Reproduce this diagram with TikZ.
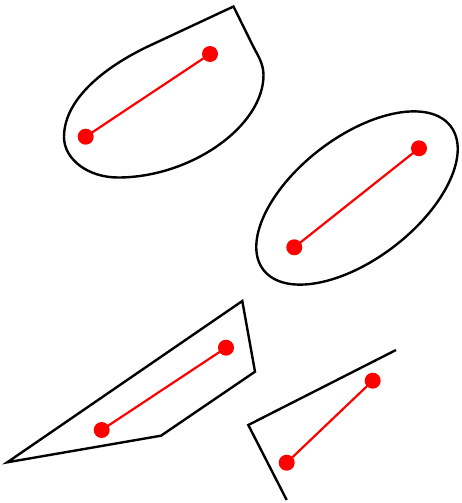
\documentclass[tikz,border=0pt]{standalone}
\tikzset{
  outline/.style={draw=black, line width=2.4pt, line join=miter},
  seg/.style={draw=red, line width=2.2pt},
  dot/.style={circle, fill=red, draw=none, inner sep=0pt, minimum size=16pt},
}
\begin{document}
\begin{tikzpicture}[x=1pt,y=-1pt]
\useasboundingbox (0,0) rectangle (461,503);

% top shape: corner plus rounded body
\coordinate (c1) at (233.5,6.5);
\coordinate (t2) at (252,44);
\coordinate (r1) at (263.5,75);
\coordinate (bt) at (118,177.5);
\coordinate (l1) at (64,137);
\coordinate (t1) at (150,45.5);
\draw[outline] (c1) -- (t2)
  .. controls (257.3,54.8) and (263.5,63) .. (r1)
  .. controls (263.5,126.3) and (190.8,177.5) .. (bt)
  .. controls (88.2,177.5) and (64,159.4) .. (l1)
  .. controls (64,97) and (109.2,64.5) .. (t1)
  -- cycle;
\node[dot] (p1) at (85.7,136.7) {};
\node[dot] (q1) at (210,54) {};
\draw[seg] (p1.center) -- (q1.center);

% right ellipse
\coordinate (e2) at (357,198);
\draw[outline, rotate around={37.5:(e2)}] (e2) ellipse [x radius=118, y radius=61];
\node[dot] (p2) at (294.3,247.3) {};
\node[dot] (q2) at (419,148.3) {};
\draw[seg] (p2.center) -- (q2.center);

% bottom-left polygon
\coordinate (a1) at (7.3,462.3);
\coordinate (a2) at (242.3,301);
\coordinate (a3) at (255,371.7);
\coordinate (a4) at (161,435.7);
\draw[outline] (a1) -- (a2) -- (a3) -- (a4) -- cycle;
\node[dot] (p3) at (101.7,430) {};
\node[dot] (q3) at (226,347.7) {};
\draw[seg] (p3.center) -- (q3.center);

% bottom-right open polyline
\coordinate (b1) at (396,350);
\coordinate (b2) at (248.3,425);
\coordinate (b3) at (286.7,500);
\draw[outline] (b1) -- (b2) -- (b3);
\node[dot] (p4) at (286.7,462.7) {};
\node[dot] (q4) at (372.7,380.7) {};
\draw[seg] (p4.center) -- (q4.center);
\end{tikzpicture}
\end{document}
